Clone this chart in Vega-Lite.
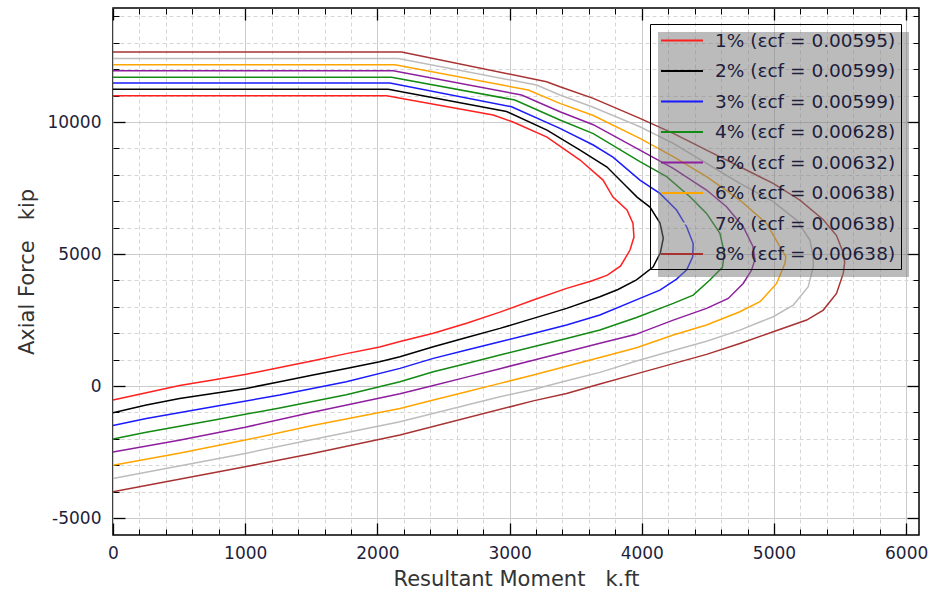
{
  "$schema": "https://vega.github.io/schema/vega-lite/v6.json",
  "width": 806,
  "height": 527,
  "autosize": {"type": "none"},
  "padding": {"left": 113, "top": 8, "right": 13, "bottom": 61},
  "background": "white",
  "config": {
    "view": {"stroke": "black", "strokeWidth": 1.5},
    "font": "DejaVu Sans",
    "axis": {"domain": false, "labelFont": "DejaVu Sans", "titleFont": "DejaVu Sans"},
    "legend": {
      "symbolType": "M-2,0H2",
      "symbolSize": 441,
      "symbolStrokeWidth": 2,
      "symbolOffset": 15.5,
      "labelFontSize": 18.5,
      "labelFont": "DejaVu Sans",
      "labelColor": "#1e1e3c",
      "labelOffset": 21.5,
      "labelLimit": 400,
      "padding": 5,
      "rowPadding": 9.5,
      "cornerRadius": 0
    }
  },
  "datasets": {
    "curves": [
      {"s":"1% (εcf = 0.00595)","i":0,"m":0,"p":11000},
      {"s":"1% (εcf = 0.00595)","i":1,"m":2070,"p":11000},
      {"s":"1% (εcf = 0.00595)","i":2,"m":2876,"p":10265},
      {"s":"1% (εcf = 0.00595)","i":3,"m":3026,"p":10000},
      {"s":"1% (εcf = 0.00595)","i":4,"m":3283,"p":9432},
      {"s":"1% (εcf = 0.00595)","i":5,"m":3533,"p":8561},
      {"s":"1% (εcf = 0.00595)","i":6,"m":3707,"p":7803},
      {"s":"1% (εcf = 0.00595)","i":7,"m":3782,"p":7159},
      {"s":"1% (εcf = 0.00595)","i":8,"m":3888,"p":6667},
      {"s":"1% (εcf = 0.00595)","i":9,"m":3933,"p":6174},
      {"s":"1% (εcf = 0.00595)","i":10,"m":3941,"p":5644},
      {"s":"1% (εcf = 0.00595)","i":11,"m":3911,"p":5152},
      {"s":"1% (εcf = 0.00595)","i":12,"m":3840,"p":4550},
      {"s":"1% (εcf = 0.00595)","i":13,"m":3740,"p":4200},
      {"s":"1% (εcf = 0.00595)","i":14,"m":3620,"p":3980},
      {"s":"1% (εcf = 0.00595)","i":15,"m":3431,"p":3700},
      {"s":"1% (εcf = 0.00595)","i":16,"m":3179,"p":3258},
      {"s":"1% (εcf = 0.00595)","i":17,"m":2927,"p":2800},
      {"s":"1% (εcf = 0.00595)","i":18,"m":2675,"p":2380},
      {"s":"1% (εcf = 0.00595)","i":19,"m":2423,"p":2000},
      {"s":"1% (εcf = 0.00595)","i":20,"m":2171,"p":1690},
      {"s":"1% (εcf = 0.00595)","i":21,"m":2017,"p":1480},
      {"s":"1% (εcf = 0.00595)","i":22,"m":1765,"p":1230},
      {"s":"1% (εcf = 0.00595)","i":23,"m":1513,"p":960},
      {"s":"1% (εcf = 0.00595)","i":24,"m":1261,"p":700},
      {"s":"1% (εcf = 0.00595)","i":25,"m":1008,"p":450},
      {"s":"1% (εcf = 0.00595)","i":26,"m":756,"p":230},
      {"s":"1% (εcf = 0.00595)","i":27,"m":504,"p":20},
      {"s":"1% (εcf = 0.00595)","i":28,"m":252,"p":-250},
      {"s":"1% (εcf = 0.00595)","i":29,"m":0,"p":-530},

      {"s":"2% (εcf = 0.00599)","i":0,"m":0,"p":11240},
      {"s":"2% (εcf = 0.00599)","i":1,"m":2082,"p":11240},
      {"s":"2% (εcf = 0.00599)","i":2,"m":2977,"p":10400},
      {"s":"2% (εcf = 0.00599)","i":3,"m":3283,"p":9697},
      {"s":"2% (εcf = 0.00599)","i":4,"m":3533,"p":8939},
      {"s":"2% (εcf = 0.00599)","i":5,"m":3737,"p":8295},
      {"s":"2% (εcf = 0.00599)","i":6,"m":3888,"p":7538},
      {"s":"2% (εcf = 0.00599)","i":7,"m":3964,"p":7159},
      {"s":"2% (εcf = 0.00599)","i":8,"m":4062,"p":6780},
      {"s":"2% (εcf = 0.00599)","i":9,"m":4138,"p":6174},
      {"s":"2% (εcf = 0.00599)","i":10,"m":4163,"p":5600},
      {"s":"2% (εcf = 0.00599)","i":11,"m":4140,"p":5040},
      {"s":"2% (εcf = 0.00599)","i":12,"m":4085,"p":4510},
      {"s":"2% (εcf = 0.00599)","i":13,"m":3960,"p":4020},
      {"s":"2% (εcf = 0.00599)","i":14,"m":3820,"p":3660},
      {"s":"2% (εcf = 0.00599)","i":15,"m":3683,"p":3384},
      {"s":"2% (εcf = 0.00599)","i":16,"m":3431,"p":2942},
      {"s":"2% (εcf = 0.00599)","i":17,"m":3179,"p":2564},
      {"s":"2% (εcf = 0.00599)","i":18,"m":2927,"p":2185},
      {"s":"2% (εcf = 0.00599)","i":19,"m":2675,"p":1844},
      {"s":"2% (εcf = 0.00599)","i":20,"m":2423,"p":1490},
      {"s":"2% (εcf = 0.00599)","i":21,"m":2171,"p":1112},
      {"s":"2% (εcf = 0.00599)","i":22,"m":2017,"p":922},
      {"s":"2% (εcf = 0.00599)","i":23,"m":1765,"p":670},
      {"s":"2% (εcf = 0.00599)","i":24,"m":1513,"p":417},
      {"s":"2% (εcf = 0.00599)","i":25,"m":1261,"p":165},
      {"s":"2% (εcf = 0.00599)","i":26,"m":1008,"p":-88},
      {"s":"2% (εcf = 0.00599)","i":27,"m":756,"p":-278},
      {"s":"2% (εcf = 0.00599)","i":28,"m":504,"p":-467},
      {"s":"2% (εcf = 0.00599)","i":29,"m":252,"p":-720},
      {"s":"2% (εcf = 0.00599)","i":30,"m":0,"p":-1010},

      {"s":"3% (εcf = 0.00599)","i":0,"m":0,"p":11480},
      {"s":"3% (εcf = 0.00599)","i":1,"m":2095,"p":11480},
      {"s":"3% (εcf = 0.00599)","i":2,"m":3015,"p":10580},
      {"s":"3% (εcf = 0.00599)","i":3,"m":3381,"p":9760},
      {"s":"3% (εcf = 0.00599)","i":4,"m":3633,"p":9130},
      {"s":"3% (εcf = 0.00599)","i":5,"m":3782,"p":8674},
      {"s":"3% (εcf = 0.00599)","i":6,"m":3986,"p":7804},
      {"s":"3% (εcf = 0.00599)","i":7,"m":4137,"p":7298},
      {"s":"3% (εcf = 0.00599)","i":8,"m":4263,"p":6667},
      {"s":"3% (εcf = 0.00599)","i":9,"m":4339,"p":6036},
      {"s":"3% (εcf = 0.00599)","i":10,"m":4389,"p":5400},
      {"s":"3% (εcf = 0.00599)","i":11,"m":4385,"p":4900},
      {"s":"3% (εcf = 0.00599)","i":12,"m":4340,"p":4400},
      {"s":"3% (εcf = 0.00599)","i":13,"m":4263,"p":4050},
      {"s":"3% (εcf = 0.00599)","i":14,"m":4137,"p":3636},
      {"s":"3% (εcf = 0.00599)","i":15,"m":3986,"p":3320},
      {"s":"3% (εcf = 0.00599)","i":16,"m":3683,"p":2690},
      {"s":"3% (εcf = 0.00599)","i":17,"m":3431,"p":2311},
      {"s":"3% (εcf = 0.00599)","i":18,"m":3179,"p":1995},
      {"s":"3% (εcf = 0.00599)","i":19,"m":2927,"p":1680},
      {"s":"3% (εcf = 0.00599)","i":20,"m":2675,"p":1364},
      {"s":"3% (εcf = 0.00599)","i":21,"m":2423,"p":1049},
      {"s":"3% (εcf = 0.00599)","i":22,"m":2171,"p":670},
      {"s":"3% (εcf = 0.00599)","i":23,"m":1765,"p":164},
      {"s":"3% (εcf = 0.00599)","i":24,"m":1261,"p":-341},
      {"s":"3% (εcf = 0.00599)","i":25,"m":756,"p":-783},
      {"s":"3% (εcf = 0.00599)","i":26,"m":252,"p":-1225},
      {"s":"3% (εcf = 0.00599)","i":27,"m":0,"p":-1490},

      {"s":"4% (εcf = 0.00628)","i":0,"m":0,"p":11700},
      {"s":"4% (εcf = 0.00628)","i":1,"m":2107,"p":11700},
      {"s":"4% (εcf = 0.00628)","i":2,"m":3040,"p":10834},
      {"s":"4% (εcf = 0.00628)","i":3,"m":3381,"p":10076},
      {"s":"4% (εcf = 0.00628)","i":4,"m":3633,"p":9560},
      {"s":"4% (εcf = 0.00628)","i":5,"m":3986,"p":8498},
      {"s":"4% (εcf = 0.00628)","i":6,"m":4188,"p":7930},
      {"s":"4% (εcf = 0.00628)","i":7,"m":4364,"p":7172},
      {"s":"4% (εcf = 0.00628)","i":8,"m":4490,"p":6541},
      {"s":"4% (εcf = 0.00628)","i":9,"m":4591,"p":5783},
      {"s":"4% (εcf = 0.00628)","i":10,"m":4625,"p":5030},
      {"s":"4% (εcf = 0.00628)","i":11,"m":4610,"p":4500},
      {"s":"4% (εcf = 0.00628)","i":12,"m":4515,"p":4015},
      {"s":"4% (εcf = 0.00628)","i":13,"m":4389,"p":3447},
      {"s":"4% (εcf = 0.00628)","i":14,"m":4238,"p":3131},
      {"s":"4% (εcf = 0.00628)","i":15,"m":3960,"p":2600},
      {"s":"4% (εcf = 0.00628)","i":16,"m":3683,"p":2122},
      {"s":"4% (εcf = 0.00628)","i":17,"m":3431,"p":1806},
      {"s":"4% (εcf = 0.00628)","i":18,"m":3179,"p":1490},
      {"s":"4% (εcf = 0.00628)","i":19,"m":2927,"p":1175},
      {"s":"4% (εcf = 0.00628)","i":20,"m":2675,"p":859},
      {"s":"4% (εcf = 0.00628)","i":21,"m":2423,"p":544},
      {"s":"4% (εcf = 0.00628)","i":22,"m":2171,"p":165},
      {"s":"4% (εcf = 0.00628)","i":23,"m":1765,"p":-330},
      {"s":"4% (εcf = 0.00628)","i":24,"m":1261,"p":-830},
      {"s":"4% (εcf = 0.00628)","i":25,"m":756,"p":-1290},
      {"s":"4% (εcf = 0.00628)","i":26,"m":252,"p":-1750},
      {"s":"4% (εcf = 0.00628)","i":27,"m":0,"p":-2000},

      {"s":"5% (εcf = 0.00632)","i":0,"m":0,"p":11940},
      {"s":"5% (εcf = 0.00632)","i":1,"m":2120,"p":11940},
      {"s":"5% (εcf = 0.00632)","i":2,"m":3091,"p":11023},
      {"s":"5% (εcf = 0.00632)","i":3,"m":3381,"p":10391},
      {"s":"5% (εcf = 0.00632)","i":4,"m":3633,"p":9900},
      {"s":"5% (εcf = 0.00632)","i":5,"m":3986,"p":8940},
      {"s":"5% (εcf = 0.00632)","i":6,"m":4238,"p":8246},
      {"s":"5% (εcf = 0.00632)","i":7,"m":4490,"p":7425},
      {"s":"5% (εcf = 0.00632)","i":8,"m":4641,"p":6794},
      {"s":"5% (εcf = 0.00632)","i":9,"m":4767,"p":6036},
      {"s":"5% (εcf = 0.00632)","i":10,"m":4840,"p":5300},
      {"s":"5% (εcf = 0.00632)","i":11,"m":4856,"p":4800},
      {"s":"5% (εcf = 0.00632)","i":12,"m":4831,"p":4400},
      {"s":"5% (εcf = 0.00632)","i":13,"m":4767,"p":3889},
      {"s":"5% (εcf = 0.00632)","i":14,"m":4654,"p":3320},
      {"s":"5% (εcf = 0.00632)","i":15,"m":4490,"p":2942},
      {"s":"5% (εcf = 0.00632)","i":16,"m":4238,"p":2500},
      {"s":"5% (εcf = 0.00632)","i":17,"m":3950,"p":1950},
      {"s":"5% (εcf = 0.00632)","i":18,"m":3683,"p":1620},
      {"s":"5% (εcf = 0.00632)","i":19,"m":3431,"p":1300},
      {"s":"5% (εcf = 0.00632)","i":20,"m":3179,"p":980},
      {"s":"5% (εcf = 0.00632)","i":21,"m":2927,"p":660},
      {"s":"5% (εcf = 0.00632)","i":22,"m":2675,"p":340},
      {"s":"5% (εcf = 0.00632)","i":23,"m":2423,"p":20},
      {"s":"5% (εcf = 0.00632)","i":24,"m":2171,"p":-290},
      {"s":"5% (εcf = 0.00632)","i":25,"m":1500,"p":-1000},
      {"s":"5% (εcf = 0.00632)","i":26,"m":1000,"p":-1560},
      {"s":"5% (εcf = 0.00632)","i":27,"m":500,"p":-2050},
      {"s":"5% (εcf = 0.00632)","i":28,"m":0,"p":-2500},

      {"s":"6% (εcf = 0.00638)","i":0,"m":0,"p":12170},
      {"s":"6% (εcf = 0.00638)","i":1,"m":2133,"p":12170},
      {"s":"6% (εcf = 0.00638)","i":2,"m":3141,"p":11212},
      {"s":"6% (εcf = 0.00638)","i":3,"m":3381,"p":10707},
      {"s":"6% (εcf = 0.00638)","i":4,"m":3633,"p":10250},
      {"s":"6% (εcf = 0.00638)","i":5,"m":3986,"p":9382},
      {"s":"6% (εcf = 0.00638)","i":6,"m":4238,"p":8688},
      {"s":"6% (εcf = 0.00638)","i":7,"m":4490,"p":7930},
      {"s":"6% (εcf = 0.00638)","i":8,"m":4742,"p":7046},
      {"s":"6% (εcf = 0.00638)","i":9,"m":4944,"p":6162},
      {"s":"6% (εcf = 0.00638)","i":10,"m":5045,"p":5278},
      {"s":"6% (εcf = 0.00638)","i":11,"m":5090,"p":4900},
      {"s":"6% (εcf = 0.00638)","i":12,"m":5083,"p":4646},
      {"s":"6% (εcf = 0.00638)","i":13,"m":5020,"p":3889},
      {"s":"6% (εcf = 0.00638)","i":14,"m":4894,"p":3194},
      {"s":"6% (εcf = 0.00638)","i":15,"m":4742,"p":2815},
      {"s":"6% (εcf = 0.00638)","i":16,"m":4490,"p":2311},
      {"s":"6% (εcf = 0.00638)","i":17,"m":4238,"p":1932},
      {"s":"6% (εcf = 0.00638)","i":18,"m":3960,"p":1450},
      {"s":"6% (εcf = 0.00638)","i":19,"m":3683,"p":1080},
      {"s":"6% (εcf = 0.00638)","i":20,"m":3431,"p":750},
      {"s":"6% (εcf = 0.00638)","i":21,"m":3179,"p":420},
      {"s":"6% (εcf = 0.00638)","i":22,"m":2927,"p":102},
      {"s":"6% (εcf = 0.00638)","i":23,"m":2675,"p":-214},
      {"s":"6% (εcf = 0.00638)","i":24,"m":2423,"p":-530},
      {"s":"6% (εcf = 0.00638)","i":25,"m":2171,"p":-846},
      {"s":"6% (εcf = 0.00638)","i":26,"m":1500,"p":-1500},
      {"s":"6% (εcf = 0.00638)","i":27,"m":1000,"p":-2045},
      {"s":"6% (εcf = 0.00638)","i":28,"m":500,"p":-2540},
      {"s":"6% (εcf = 0.00638)","i":29,"m":0,"p":-3000},

      {"s":"7% (εcf = 0.00638)","i":0,"m":0,"p":12410},
      {"s":"7% (εcf = 0.00638)","i":1,"m":2158,"p":12410},
      {"s":"7% (εcf = 0.00638)","i":2,"m":3204,"p":11402},
      {"s":"7% (εcf = 0.00638)","i":3,"m":3381,"p":11023},
      {"s":"7% (εcf = 0.00638)","i":4,"m":3633,"p":10560},
      {"s":"7% (εcf = 0.00638)","i":5,"m":3986,"p":9824},
      {"s":"7% (εcf = 0.00638)","i":6,"m":4238,"p":9193},
      {"s":"7% (εcf = 0.00638)","i":7,"m":4490,"p":8435},
      {"s":"7% (εcf = 0.00638)","i":8,"m":4742,"p":7677},
      {"s":"7% (εcf = 0.00638)","i":9,"m":4994,"p":6983},
      {"s":"7% (εcf = 0.00638)","i":10,"m":5171,"p":6288},
      {"s":"7% (εcf = 0.00638)","i":11,"m":5272,"p":5531},
      {"s":"7% (εcf = 0.00638)","i":12,"m":5297,"p":4900},
      {"s":"7% (εcf = 0.00638)","i":13,"m":5297,"p":4520},
      {"s":"7% (εcf = 0.00638)","i":14,"m":5259,"p":3762},
      {"s":"7% (εcf = 0.00638)","i":15,"m":5146,"p":3068},
      {"s":"7% (εcf = 0.00638)","i":16,"m":4994,"p":2626},
      {"s":"7% (εcf = 0.00638)","i":17,"m":4742,"p":2121},
      {"s":"7% (εcf = 0.00638)","i":18,"m":4490,"p":1700},
      {"s":"7% (εcf = 0.00638)","i":19,"m":4238,"p":1350},
      {"s":"7% (εcf = 0.00638)","i":20,"m":3960,"p":950},
      {"s":"7% (εcf = 0.00638)","i":21,"m":3683,"p":520},
      {"s":"7% (εcf = 0.00638)","i":22,"m":3431,"p":200},
      {"s":"7% (εcf = 0.00638)","i":23,"m":3179,"p":-130},
      {"s":"7% (εcf = 0.00638)","i":24,"m":2927,"p":-400},
      {"s":"7% (εcf = 0.00638)","i":25,"m":2171,"p":-1351},
      {"s":"7% (εcf = 0.00638)","i":26,"m":1500,"p":-2030},
      {"s":"7% (εcf = 0.00638)","i":27,"m":1000,"p":-2550},
      {"s":"7% (εcf = 0.00638)","i":28,"m":500,"p":-3030},
      {"s":"7% (εcf = 0.00638)","i":29,"m":0,"p":-3500},

      {"s":"8% (εcf = 0.00638)","i":0,"m":0,"p":12650},
      {"s":"8% (εcf = 0.00638)","i":1,"m":2183,"p":12650},
      {"s":"8% (εcf = 0.00638)","i":2,"m":3280,"p":11528},
      {"s":"8% (εcf = 0.00638)","i":3,"m":3381,"p":11338},
      {"s":"8% (εcf = 0.00638)","i":4,"m":3633,"p":10897},
      {"s":"8% (εcf = 0.00638)","i":5,"m":3986,"p":10139},
      {"s":"8% (εcf = 0.00638)","i":6,"m":4238,"p":9571},
      {"s":"8% (εcf = 0.00638)","i":7,"m":4490,"p":8940},
      {"s":"8% (εcf = 0.00638)","i":8,"m":4742,"p":8309},
      {"s":"8% (εcf = 0.00638)","i":9,"m":4994,"p":7677},
      {"s":"8% (εcf = 0.00638)","i":10,"m":5196,"p":7046},
      {"s":"8% (εcf = 0.00638)","i":11,"m":5373,"p":6300},
      {"s":"8% (εcf = 0.00638)","i":12,"m":5473,"p":5700},
      {"s":"8% (εcf = 0.00638)","i":13,"m":5520,"p":5100},
      {"s":"8% (εcf = 0.00638)","i":14,"m":5535,"p":4700},
      {"s":"8% (εcf = 0.00638)","i":15,"m":5524,"p":4267},
      {"s":"8% (εcf = 0.00638)","i":16,"m":5473,"p":3510},
      {"s":"8% (εcf = 0.00638)","i":17,"m":5373,"p":2879},
      {"s":"8% (εcf = 0.00638)","i":18,"m":5247,"p":2500},
      {"s":"8% (εcf = 0.00638)","i":19,"m":4994,"p":2058},
      {"s":"8% (εcf = 0.00638)","i":20,"m":4742,"p":1616},
      {"s":"8% (εcf = 0.00638)","i":21,"m":4490,"p":1200},
      {"s":"8% (εcf = 0.00638)","i":22,"m":4238,"p":850},
      {"s":"8% (εcf = 0.00638)","i":23,"m":3986,"p":500},
      {"s":"8% (εcf = 0.00638)","i":24,"m":3683,"p":80},
      {"s":"8% (εcf = 0.00638)","i":25,"m":3431,"p":-277},
      {"s":"8% (εcf = 0.00638)","i":26,"m":3179,"p":-560},
      {"s":"8% (εcf = 0.00638)","i":27,"m":2171,"p":-1856},
      {"s":"8% (εcf = 0.00638)","i":28,"m":1500,"p":-2560},
      {"s":"8% (εcf = 0.00638)","i":29,"m":1000,"p":-3056},
      {"s":"8% (εcf = 0.00638)","i":30,"m":500,"p":-3530},
      {"s":"8% (εcf = 0.00638)","i":31,"m":0,"p":-4000}
    ]
  },
  "data": {"name": "curves"},
  "resolve": {"axis": {"x": "independent", "y": "independent"}, "legend": {"color": "independent"}},
  "layer": [
    {
      "mark": {"type": "line", "opacity": 0, "strokeWidth": 1.5},
      "encoding": {
        "x": {"field": "m", "type": "quantitative", "scale": {"domain": [0, 6097], "nice": false, "zero": false},
          "axis": {"orient": "bottom", "values": [200,400,600,800,1200,1400,1600,1800,2200,2400,2600,2800,3200,3400,3600,3800,4200,4400,4600,4800,5200,5400,5600,5800],
            "grid": true, "gridDash": [4, 3], "gridColor": "#d6d6d6", "labels": false, "ticks": true, "tickSize": -6, "tickColor": "#000", "tickWidth": 1, "title": null}},
        "y": {"field": "p", "type": "quantitative", "scale": {"domain": [-5640, 14320], "nice": false, "zero": false},
          "axis": {"orient": "left", "values": [-4000,-3000,-2000,-1000,1000,2000,3000,4000,6000,7000,8000,9000,11000,12000,13000,14000],
            "grid": true, "gridDash": [4, 3], "gridColor": "#d6d6d6", "labels": false, "ticks": true, "tickSize": -6, "tickColor": "#000", "tickWidth": 1, "title": null}},
        "order": {"field": "i", "type": "quantitative"},
        "color": {"field": "s", "type": "nominal",
          "scale": {"domain": ["1% (εcf = 0.00595)","2% (εcf = 0.00599)","3% (εcf = 0.00599)","4% (εcf = 0.00628)","5% (εcf = 0.00632)","6% (εcf = 0.00638)","7% (εcf = 0.00638)","8% (εcf = 0.00638)"],
            "range": ["#ff2020","#000000","#1a1aff","#138a13","#8e1e9e","#ffa500","#bdbdbd","#a83232"]},
          "legend": {"orient": "none", "legendX": 545, "legendY": 24, "title": null, "fillColor": "rgba(120,120,120,0.5)", "labelOpacity": 0, "symbolOpacity": 0}}
      }
    },
    {
      "mark": {"type": "line", "strokeWidth": 1.5},
      "encoding": {
        "x": {"field": "m", "type": "quantitative", "scale": {"domain": [0, 6097], "nice": false, "zero": false},
          "axis": {"orient": "bottom", "values": [0,1000,2000,3000,4000,5000,6000], "labelExpr": "datum.value + ''", "grid": true, "gridColor": "#cccccc", "ticks": true, "tickSize": -12, "tickColor": "#000", "tickWidth": 1.3,
            "labelFontSize": 17, "labelColor": "#1e1e3c", "labelPadding": 22, "labelFlush": false, "labelOverlap": false,
            "title": "Resultant Moment\u00a0\u00a0\u00a0k.ft", "titleFontSize": 21, "titleFontWeight": "normal", "titleColor": "#333333", "titlePadding": 7}},
        "y": {"field": "p", "type": "quantitative", "scale": {"domain": [-5640, 14320], "nice": false, "zero": false},
          "axis": {"orient": "left", "values": [-5000,0,5000,10000], "labelExpr": "datum.value + ''", "grid": true, "gridColor": "#cccccc", "ticks": true, "tickSize": -12, "tickColor": "#000", "tickWidth": 1.3,
            "labelFontSize": 17, "labelColor": "#1e1e3c", "labelPadding": 24, "labelFlush": false, "labelOverlap": false,
            "title": "Axial Force\u00a0\u00a0\u00a0kip", "titleFontSize": 21, "titleFontWeight": "normal", "titleColor": "#333333", "titlePadding": 9}},
        "order": {"field": "i", "type": "quantitative"},
        "color": {"field": "s", "type": "nominal",
          "scale": {"domain": ["1% (εcf = 0.00595)","2% (εcf = 0.00599)","3% (εcf = 0.00599)","4% (εcf = 0.00628)","5% (εcf = 0.00632)","6% (εcf = 0.00638)","7% (εcf = 0.00638)","8% (εcf = 0.00638)"],
            "range": ["#ff2020","#000000","#1a1aff","#138a13","#8e1e9e","#ffa500","#bdbdbd","#a83232"]},
          "legend": {"orient": "none", "legendX": 537, "legendY": 16, "title": null, "fillColor": "transparent", "strokeColor": "#000000"}}
      }
    },
    {
      "mark": {"type": "point", "opacity": 0},
      "encoding": {
        "x": {"field": "m", "type": "quantitative", "scale": {"domain": [0, 6097], "nice": false, "zero": false},
          "axis": {"orient": "top", "values": [0,1000,2000,3000,4000,5000,6000], "grid": false, "labels": false, "ticks": true, "tickSize": -12, "tickColor": "#000", "tickWidth": 1.3, "title": null}},
        "y": {"field": "p", "type": "quantitative", "scale": {"domain": [-5640, 14320], "nice": false, "zero": false},
          "axis": {"orient": "right", "values": [-5000,0,5000,10000], "grid": false, "labels": false, "ticks": true, "tickSize": -12, "tickColor": "#000", "tickWidth": 1.3, "title": null}}
      }
    },
    {
      "mark": {"type": "point", "opacity": 0},
      "encoding": {
        "x": {"field": "m", "type": "quantitative", "scale": {"domain": [0, 6097], "nice": false, "zero": false},
          "axis": {"orient": "top", "values": [200,400,600,800,1200,1400,1600,1800,2200,2400,2600,2800,3200,3400,3600,3800,4200,4400,4600,4800,5200,5400,5600,5800],
            "grid": false, "labels": false, "ticks": true, "tickSize": -6, "tickColor": "#000", "tickWidth": 1, "title": null}},
        "y": {"field": "p", "type": "quantitative", "scale": {"domain": [-5640, 14320], "nice": false, "zero": false},
          "axis": {"orient": "right", "values": [-4000,-3000,-2000,-1000,1000,2000,3000,4000,6000,7000,8000,9000,11000,12000,13000,14000],
            "grid": false, "labels": false, "ticks": true, "tickSize": -6, "tickColor": "#000", "tickWidth": 1, "title": null}}
      }
    }
  ]
}
